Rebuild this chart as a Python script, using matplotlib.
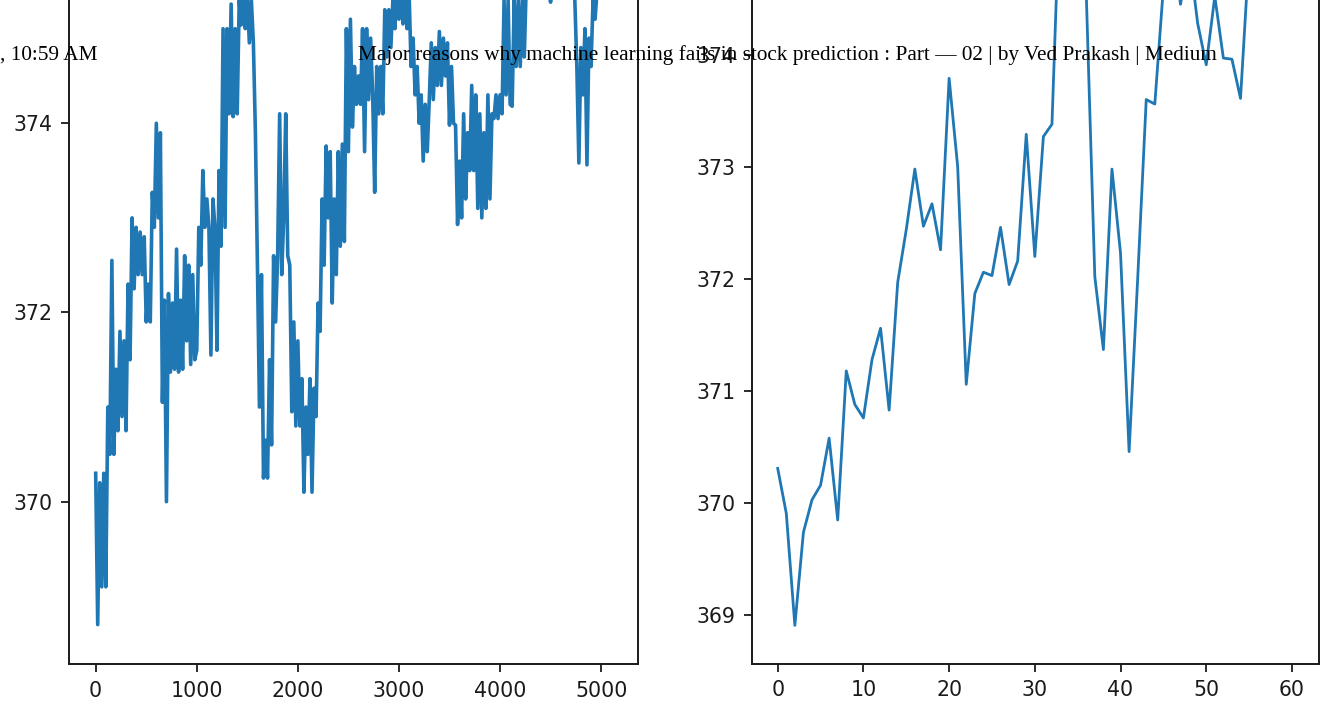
import matplotlib
matplotlib.use("Agg")
import matplotlib.pyplot as plt

# ---------------- data ----------------
# left panel: long price series (sampled every LEFT_STEP index units, read off the picture)
LEFT_STEP = 20
left_values = [
    370.30, 368.70, 370.20, 369.10, 370.30, 369.10, 371.00, 370.50, 372.55, 370.50,
    371.40, 370.75, 371.80, 370.90, 371.70, 370.75, 372.30, 371.50, 373.00, 372.25,
    372.90, 372.40, 372.85, 372.40, 372.80, 371.90, 372.30, 371.90, 373.27, 372.90,
    374.00, 373.00, 373.90, 371.05, 372.13, 370.00, 372.20, 371.37, 372.10, 371.40,
    372.67, 371.37, 372.13, 371.40, 372.60, 371.70, 372.50, 371.45, 372.40, 371.50,
    371.60, 372.90, 372.50, 373.50, 372.90, 373.20, 372.90, 371.55, 373.20, 372.90,
    371.60, 373.50, 372.70, 375.00, 372.90, 375.00, 374.10, 375.26, 374.07, 375.00,
    374.10, 375.30, 375.04, 375.40, 375.00, 375.35, 374.85, 375.30, 374.85, 373.90,
    372.50, 371.00, 372.40, 370.25, 370.65, 370.25, 371.50, 370.60, 372.60, 371.90,
    372.60, 374.10, 372.40, 373.00, 374.10, 372.60, 372.50, 370.95, 371.90, 370.80,
    371.70, 370.80, 371.30, 370.10, 371.00, 370.50, 371.30, 370.10, 371.20, 370.90,
    372.10, 371.80, 373.20, 372.50, 373.76, 373.00, 373.70, 372.10, 373.20, 372.40,
    373.70, 372.70, 373.78, 372.75, 375.00, 373.70, 375.10, 373.96, 374.60, 374.20,
    374.50, 374.20, 375.00, 373.70, 375.00, 374.25, 374.90, 374.30, 373.27, 374.60,
    374.10, 374.60, 374.10, 375.20, 374.70, 375.20, 374.80, 375.30, 375.00, 375.50,
    375.10, 375.50, 375.05, 375.50, 375.00, 375.40, 374.60, 374.90, 374.30, 374.60,
    374.00, 374.30, 373.60, 374.20, 373.70, 374.25, 374.85, 374.25, 374.80, 374.40,
    374.97, 374.40, 374.90, 374.50, 374.85, 373.98, 374.60, 374.00, 373.98, 372.93,
    373.60, 373.00, 374.10, 373.20, 373.90, 373.50, 374.40, 373.50, 374.30, 373.10,
    374.10, 373.00, 373.90, 373.10, 374.30, 373.20, 374.10, 374.05, 374.30, 374.05,
    374.30, 374.10, 375.30, 374.30, 375.30, 374.20, 374.18, 375.30, 374.60, 375.30,
    374.60, 375.30, 374.70, 375.50, 375.40, 375.60, 375.40, 375.70, 375.50, 375.80,
    375.50, 375.60, 375.40, 375.70, 375.50, 375.28, 375.60, 375.50, 375.80, 375.60,
    375.70, 375.50, 375.60, 375.80, 375.50, 375.70, 375.40, 375.30, 374.60, 373.58,
    374.80, 374.30, 375.00, 373.56, 374.90, 374.60, 375.30, 375.10, 375.40, 375.50,
    375.70, 375.60, 375.80, 375.60, 375.90, 375.70, 375.80,
]
left_x = list(range(0, LEFT_STEP * len(left_values), LEFT_STEP))

# right panel: 61 daily values
right_values = [
    370.31, 369.91, 368.91, 369.74, 370.03, 370.16, 370.58, 369.85, 371.18, 370.88,
    370.76, 371.28, 371.56, 370.83, 371.97, 372.44, 372.98, 372.47, 372.67, 372.26,
    373.79, 373.00, 371.06, 371.87, 372.06, 372.03, 372.46, 371.95, 372.16, 373.29,
    372.20, 373.27, 373.38, 375.60, 375.90, 375.50, 374.55, 372.02, 371.37, 372.98,
    372.23, 370.46, 372.00, 373.60, 373.56, 374.60, 375.00, 374.45, 374.90, 374.28,
    373.91, 374.52, 373.97, 373.96, 373.61, 374.90, 375.30, 375.60, 375.10, 375.50,
    375.80,
]
right_x = list(range(len(right_values)))

left_xticks = [0, 1000, 2000, 3000, 4000, 5000]
left_yticks = [370, 372, 374]
right_xticks = [0, 10, 20, 30, 40, 50, 60]
right_yticks = [369, 370, 371, 372, 373, 374]

header_left = ", 10:59 AM"
header_title = ("Major reasons why machine learning fails in stock prediction : "
                "Part \u2014 02 | by Ved Prakash | Medium")

# ---------------- figure ----------------
W, H = 1324, 703
fig = plt.figure(figsize=(W / 100, H / 100), dpi=100)
fig.patch.set_facecolor("white")

def px_axes(left, right, bottom, top=0):
    return fig.add_axes([left / W, (H - bottom) / H, (right - left) / W, (bottom - top) / H])

axL = px_axes(69, 637.5, 664)
axR = px_axes(752, 1318.5, 663.5)

line_color = "#1f77b4"
axL.plot(left_x, left_values, color=line_color, lw=2.6)
axR.plot(right_x, right_values, color=line_color, lw=2.0)

axL.set_xlim(-264, 5360)
axL.set_ylim(368.284, 375.303)
axR.set_xlim(-3.0, 63.1)
axR.set_ylim(368.570, 374.488)

for ax, xt, yt in ((axL, left_xticks, left_yticks), (axR, right_xticks, right_yticks)):
    ax.set_xticks(xt)
    ax.set_yticks(yt)
    ax.spines["top"].set_visible(False)
    for s in ("left", "right", "bottom"):
        ax.spines[s].set_linewidth(1.4)
        ax.spines[s].set_color("#1a1a1a")
    ax.tick_params(axis="both", which="major", labelsize=14.8, length=6, width=1.3,
                   pad=6, colors="#1a1a1a", labelcolor="#1a1a1a")

fig.text(98 / W, 1 - 60 / H, header_left, ha="right", va="baseline",
         fontsize=15.3, family="Liberation Serif", color="black")
fig.text(787 / W, 1 - 60 / H, header_title, ha="center", va="baseline",
         fontsize=15.3, family="Liberation Serif", color="black")

fig.savefig("out.png", dpi=100)
